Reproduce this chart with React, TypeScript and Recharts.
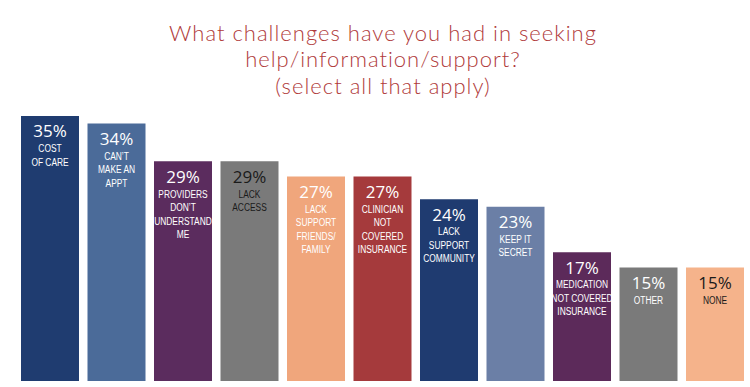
import React from "react";
import { BarChart, Bar, XAxis, YAxis, Cell, LabelList } from "recharts";

const categories = [
  "COST OF CARE",
  "CAN'T MAKE AN APPT",
  "PROVIDERS DON'T UNDERSTAND ME",
  "LACK ACCESS",
  "LACK SUPPORT FRIENDS/ FAMILY",
  "CLINICIAN NOT COVERED INSURANCE",
  "LACK SUPPORT COMMUNITY",
  "KEEP IT SECRET",
  "MEDICATION NOT COVERED INSURANCE",
  "OTHER",
  "NONE",
];
const labelLines: string[][] = [
  ["COST", "OF CARE"],
  ["CAN\u2019T", "MAKE AN", "APPT"],
  ["PROVIDERS", "DON\u2019T", "UNDERSTAND", "ME"],
  ["LACK", "ACCESS"],
  ["LACK", "SUPPORT", "FRIENDS/", "FAMILY"],
  ["CLINICIAN", "NOT", "COVERED", "INSURANCE"],
  ["LACK", "SUPPORT", "COMMUNITY"],
  ["KEEP IT", "SECRET"],
  ["MEDICATION", "NOT COVERED", "INSURANCE"],
  ["OTHER"],
  ["NONE"],
];
const values = [35, 34, 29, 29, 27, 27, 24, 23, 17, 15, 15];
const colors = [
  "#1f3c70", "#4b6b99", "#5b2c5e", "#7a7a7a", "#f0a67c", "#a53a3c",
  "#1f3b70", "#6b7fa6", "#5c2a5a", "#7a7a7a", "#f5b38b",
];
const textColors = [
  "#ffffff", "#ffffff", "#ffffff", "#1a1a1a", "#ffffff", "#ffffff",
  "#ffffff", "#ffffff", "#ffffff", "#ffffff", "#1a1a1a",
];
const titleLines = [
  "What challenges have you had in seeking",
  "help/information/support?",
  "(select all that apply)",
];

const data = categories.map((c, i) => ({
  name: c,
  value: values[i],
}));

const BarLabel = (props: any) => {
  const { x, y, width, index } = props;
  const cx = x + width / 2;
  const col = textColors[index];
  const lines = labelLines[index];
  return (
    <g>
      <text
        x={cx}
        y={y + 21.5}
        textAnchor="middle"
        fill={col}
        fontFamily="'Open Sans', sans-serif"
        fontSize={17}
      >
        {values[index]}%
      </text>
      <g transform={`translate(${cx},${y}) scale(0.73,1)`}>
        <text
          x={0}
          y={36.2}
          textAnchor="middle"
          fill={col}
          fontFamily="'Liberation Sans', Arial, sans-serif"
          fontSize={11.5}
        >
          {lines.map((l, k) => (
            <tspan key={k} x={0} dy={k === 0 ? 0 : 13.5}>
              {l}
            </tspan>
          ))}
        </text>
      </g>
    </g>
  );
};

export default function App() {
  return (
    <div style={{ position: "absolute", left: 0, top: 0, width: 750, height: 387, background: "#fff" }}>
      <svg width={750} height={105} style={{ position: "absolute", left: 0, top: 0 }}>
        <text
          x={383}
          y={40.5}
          textAnchor="middle"
          fill="#b03a3a"
          fontFamily="Lato, 'Open Sans', sans-serif"
          fontWeight={300}
          fontSize={22}
          letterSpacing={1}
        >
          {titleLines.map((t, i) => (
            <tspan key={i} x={383} dy={i === 0 ? 0 : 26.6}>
              {t}
            </tspan>
          ))}
        </text>
      </svg>
      <div style={{ position: "absolute", left: 0, top: 0 }}>
        <BarChart
          width={750}
          height={387}
          data={data}
          margin={{ top: 78, right: 1.75, bottom: 6, left: 16.75 }}
          barCategoryGap={4.25}
        >
          <XAxis dataKey="name" hide />
          <YAxis domain={[0, 40]} hide />
          <Bar dataKey="value" isAnimationActive={false}>
            {data.map((d, i) => (
              <Cell key={i} fill={colors[i]} />
            ))}
            <LabelList dataKey="value" content={BarLabel} />
          </Bar>
        </BarChart>
      </div>
    </div>
  );
}
